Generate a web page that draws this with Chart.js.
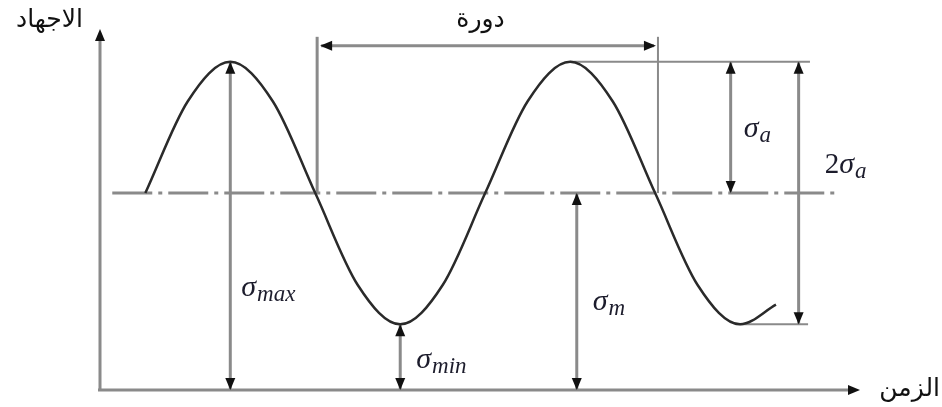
<!DOCTYPE html>
<html>
<head>
<meta charset="utf-8">
<script src="https://cdn.jsdelivr.net/npm/chart.js@4"></script>
<style>
  html, body { margin: 0; padding: 0; background: #fff; }
</style>
</head>
<body>
<canvas id="stress-chart" width="942" height="407"></canvas>
<script>
// cycle phase (degrees) and stress (arbitrary units) along the curve
const phase  = [0, 45, 90, 135, 180, 225, 270, 315, 360, 405, 450, 495, 540, 585, 630, 668];
const stress = [3, 4.4, 5, 4.4, 3, 1.6, 1, 1.6, 3, 4.4, 5, 4.4, 3, 1.6, 1, 1.3];

// characteristic stresses
const sigmaMax = 5;
const sigmaMin = 1;
const sigmaMean = 3;
const sigmaAmp = 2;

// phase where each dimension arrow stands
const cycleStart = 182, cycleEnd = 543;
const atMax = 90, atMin = 270, atMean = 457, atAmp = 620, atRange = 692;

const GREY = '#8a8a8a';
const INK = '#1c1c2c';

function head(ctx, x, y, dir) {
  const L = 12, W = 5;
  ctx.beginPath();
  ctx.moveTo(x, y);
  if (dir === 'up')    { ctx.lineTo(x - W, y + L); ctx.lineTo(x + W, y + L); }
  if (dir === 'down')  { ctx.lineTo(x - W, y - L); ctx.lineTo(x + W, y - L); }
  if (dir === 'left')  { ctx.lineTo(x + L, y - W); ctx.lineTo(x + L, y + W); }
  if (dir === 'right') { ctx.lineTo(x - L, y - W); ctx.lineTo(x - L, y + W); }
  ctx.closePath();
  ctx.fillStyle = '#111';
  ctx.fill();
}

function seg(ctx, x1, y1, x2, y2, w) {
  ctx.beginPath();
  ctx.moveTo(x1, y1);
  ctx.lineTo(x2, y2);
  ctx.lineWidth = w;
  ctx.strokeStyle = GREY;
  ctx.stroke();
}

// sigma symbol with an italic subscript, optional upright prefix
function sigma(ctx, x, y, sub, prefix) {
  ctx.fillStyle = INK;
  ctx.textAlign = 'left';
  ctx.textBaseline = 'alphabetic';
  if (prefix) {
    ctx.font = '29px "Liberation Serif"';
    ctx.fillText(prefix, x, y);
    x += ctx.measureText(prefix).width;
  }
  ctx.font = 'italic 30px "Liberation Serif"';
  ctx.fillText('σ', x, y);
  x += ctx.measureText('σ').width + 1;
  ctx.font = 'italic 23px "Liberation Serif"';
  ctx.fillText(sub, x, y + 5);
}

const guides = {
  id: 'guides',
  beforeDatasetsDraw(chart) {
    const { ctx, scales: { x, y } } = chart;
    const px = v => x.getPixelForValue(v);
    const py = v => y.getPixelForValue(v);
    ctx.save();
    ctx.lineCap = 'butt';

    // axes
    seg(ctx, px(x.min) - 2, py(0), px(x.max) - 6, py(0), 3);
    head(ctx, px(x.max), py(0), 'right');
    seg(ctx, px(x.min), py(0), px(x.min), py(y.max) + 6, 3);
    head(ctx, px(x.min), py(y.max), 'up');

    // mean stress line, dash-dot
    ctx.setLineDash([40, 6, 4, 6]);
    seg(ctx, px(-35), py(sigmaMean), px(734), py(sigmaMean), 3);
    ctx.setLineDash([]);

    // extension lines at the second peak and trough
    seg(ctx, px(450), py(sigmaMax), px(704), py(sigmaMax), 2);
    seg(ctx, px(625), py(sigmaMin), px(702), py(sigmaMin), 2);

    // one cycle bracket
    const top = py(sigmaMax) - 25, arr = py(sigmaMax) - 16;
    seg(ctx, px(cycleStart), top, px(cycleStart), py(sigmaMean), 3);
    seg(ctx, px(cycleEnd), top, px(cycleEnd), py(sigmaMean), 2);
    seg(ctx, px(cycleStart) + 4, arr, px(cycleEnd) - 4, arr, 3);
    head(ctx, px(cycleStart) + 3, arr, 'left');
    head(ctx, px(cycleEnd) - 2, arr, 'right');

    // double-headed dimension arrows
    const dims = [
      [atMax, 0, sigmaMax],
      [atMin, 0, sigmaMin],
      [atMean, 0, sigmaMean],
      [atAmp, sigmaMean, sigmaMax],
      [atRange, sigmaMin, sigmaMax]
    ];
    dims.forEach(([p, lo, hi]) => {
      const xx = px(p);
      seg(ctx, xx, py(lo), xx, py(hi), 3);
      head(ctx, xx, py(hi), 'up');
      head(ctx, xx, py(lo), 'down');
    });
    ctx.restore();
  },
  afterDatasetsDraw(chart) {
    const { ctx, scales: { x, y } } = chart;
    const px = v => x.getPixelForValue(v);
    const py = v => y.getPixelForValue(v);
    ctx.save();

    sigma(ctx, px(atMax) + 11, py(1.43), 'max');
    sigma(ctx, px(atMin) + 16, py(0.34), 'min');
    sigma(ctx, px(atMean) + 16, py(1.22), 'm');
    sigma(ctx, px(atAmp) + 13, py(3.86), 'a');
    sigma(ctx, px(atRange) + 26, py(3.31), 'a', '2');

    ctx.fillStyle = '#111';
    ctx.font = '25px "DejaVu Sans"';
    ctx.textBaseline = 'alphabetic';
    ctx.textAlign = 'right';
    ctx.fillText('الاجهاد', px(x.min) - 17, 27);
    ctx.textAlign = 'center';
    ctx.fillText('دورة', (px(cycleStart) + px(cycleEnd)) / 2 - 7, 27);
    ctx.textAlign = 'right';
    ctx.fillText('الزمن', 940, py(0) + 6);
    ctx.restore();
  }
};

new Chart(document.getElementById('stress-chart'), {
  type: 'line',
  data: {
    datasets: [{
      label: 'stress',
      data: phase.map((p, i) => ({ x: p, y: stress[i] })),
      borderColor: '#2a2a2a',
      borderWidth: 2.5,
      pointRadius: 0,
      cubicInterpolationMode: 'monotone',
      clip: false
    }]
  },
  options: {
    responsive: false,
    animation: false,
    devicePixelRatio: 1,
    layout: { padding: { left: 100, right: 82, top: 29, bottom: 17 } },
    scales: {
      x: { type: 'linear', min: -48, max: 757, display: false },
      y: { min: 0, max: 5.5, display: false }
    },
    plugins: { legend: { display: false }, tooltip: { enabled: false } }
  },
  plugins: [guides]
});
</script>
</body>
</html>
